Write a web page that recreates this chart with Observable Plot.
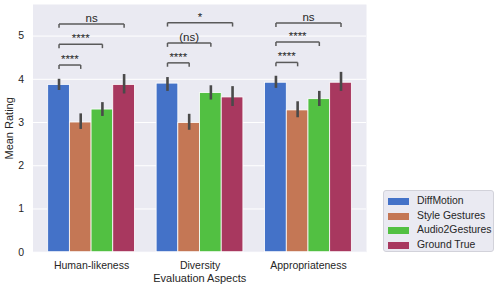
<!DOCTYPE html>
<html>
<head>
<meta charset="utf-8">
<script src="https://cdn.jsdelivr.net/npm/d3@7"></script>
<script src="https://cdn.jsdelivr.net/npm/@observablehq/plot@0.6"></script>
<style>
  html, body { margin: 0; padding: 0; background: #ffffff; }
  #wrap { position: relative; width: 498px; height: 288px; font-family: "Liberation Sans", Arial, sans-serif; }
  #legend { position: absolute; left: 383px; top: 190px; width: 109px; height: 60px;
    background: #eaeaf2; border: 1px solid #d2d2da; border-radius: 3px; box-sizing: content-box; }
  .item { position: absolute; left: 0; height: 14px; font-size: 10.4px; color: #262626; }
  .patch { position: absolute; left: 4px; top: 4px; width: 21px; height: 7px; }
  .lab { position: absolute; left: 33px; top: 0px; white-space: nowrap; line-height: 14px; }
</style>
</head>
<body>
<div id="wrap"><div id="legend"></div></div>
<script>
// ---- data ----
const aspects = ["Human-likeness", "Diversity", "Appropriateness"];
const methods = ["DiffMotion", "Style Gestures", "Audio2Gestures", "Ground True"];
const colors = ["#4472c8", "#c47755", "#52c042", "#a8385f"];

// mean ratings per method, across aspects
const diffMotion     = [3.87, 3.90, 3.92];
const styleGestures  = [3.00, 2.99, 3.28];
const audio2Gestures = [3.30, 3.68, 3.54];
const groundTrue     = [3.87, 3.58, 3.92];

// error bar (CI) lower / upper per method, across aspects
const ciLow  = [[3.74, 3.72, 3.79], [2.84, 2.82, 3.11], [3.14, 3.52, 3.37], [3.66, 3.37, 3.72]];
const ciHigh = [[4.00, 4.04, 4.07], [3.20, 3.19, 3.48], [3.46, 3.85, 3.72], [4.11, 3.83, 4.16]];

// significance brackets: pairs (method index), levels and labels per aspect
const bracketPairs  = [[0, 1], [0, 2], [0, 3]];
const bracketLevels = [[4.33, 4.81, 5.28], [4.38, 4.84, 5.31], [4.39, 4.86, 5.30]];
const bracketLabels = [["****", "****", "ns"], ["****", "(ns)", "*"], ["****", "****", "ns"]];

const yTicks = [0, 1, 2, 3, 4, 5];

// ---- build table ----
const means = [diffMotion, styleGestures, audio2Gestures, groundTrue];
const barW = 0.2;
const bars = [];
aspects.forEach((a, gi) => {
  methods.forEach((m, si) => {
    const x1 = gi + (si - 2) * barW;
    bars.push({aspect: a, method: m, x1, x2: x1 + barW, xc: x1 + barW / 2,
      value: means[si][gi], lo: ciLow[si][gi], hi: ciHigh[si][gi], color: colors[si]});
  });
});
const center = (gi, si) => gi + (si - 1.5) * barW;
const tick = 0.09;
const segs = [];
const labels = [];
aspects.forEach((a, gi) => {
  bracketPairs.forEach(([p, q], k) => {
    const y = bracketLevels[gi][k];
    const xa = center(gi, p), xb = center(gi, q);
    segs.push({x1: xa, y1: y, x2: xb, y2: y});
    segs.push({x1: xa, y1: y - tick, x2: xa, y2: y});
    segs.push({x1: xb, y1: y - tick, x2: xb, y2: y});
    labels.push({x: (xa + xb) / 2, y, text: bracketLabels[gi][k]});
  });
});

const font = '"Liberation Sans", Arial, sans-serif';
const chart = Plot.plot({
  width: 498,
  height: 288,
  marginLeft: 32.5,
  marginRight: 132,
  marginTop: 4,
  marginBottom: 36.3,
  style: {fontFamily: font, fontSize: "10.5px", color: "#262626", background: "transparent"},
  x: {domain: [-0.54, 2.535]},
  y: {domain: [0, 5.73]},
  marks: [
    Plot.frame({fill: "#eaeaf2", stroke: null}),
    Plot.gridY(yTicks, {stroke: "white", strokeOpacity: 1, strokeWidth: 1}),
    Plot.rectY(bars, {x1: "x1", x2: "x2", y: "value", fill: "color", stroke: "white", strokeWidth: 0.8}),
    Plot.ruleX(bars, {x: "xc", y1: "lo", y2: "hi", stroke: "#4a4a4a", strokeWidth: 2.6}),
    Plot.link(segs, {x1: "x1", y1: "y1", x2: "x2", y2: "y2", stroke: "#5a5a5a", strokeWidth: 1.5}),
    Plot.text(labels, {x: "x", y: "y", text: "text", lineAnchor: "bottom", dy: -2, fontSize: 11.5, fill: "#262626"}),
    Plot.axisY(yTicks, {tickSize: 0, tickPadding: 9, fontSize: 10.5}),
    Plot.axisY({tickSize: 0, ticks: [], label: "Mean Rating", labelAnchor: "center", labelArrow: "none", labelOffset: 28, fontSize: 11}),
    Plot.axisX([0, 1, 2], {tickSize: 0, tickPadding: 9, tickFormat: (i) => aspects[i], fontSize: 10.5}),
    Plot.axisX({tickSize: 0, ticks: [], label: "Evaluation Aspects", labelAnchor: "center", labelArrow: "none", labelOffset: 29.5, fontSize: 11})
  ]
});
document.getElementById("wrap").prepend(chart);

const legend = document.getElementById("legend");
methods.forEach((m, i) => {
  const it = document.createElement("div");
  it.className = "item";
  it.style.top = (3 + i * 14.5) + "px";
  it.style.width = "100%";
  const p = document.createElement("div");
  p.className = "patch";
  p.style.background = colors[i];
  const l = document.createElement("div");
  l.className = "lab";
  l.textContent = m;
  it.appendChild(p); it.appendChild(l);
  legend.appendChild(it);
});
</script>
</body>
</html>
